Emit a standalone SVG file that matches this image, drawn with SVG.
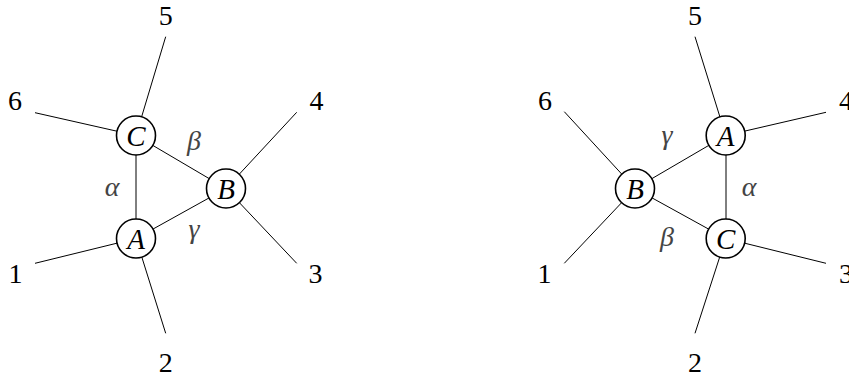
<svg xmlns="http://www.w3.org/2000/svg" width="849" height="375" viewBox="0 0 849 375">
<style>
.e{stroke:#000;stroke-width:1;fill:none}
.n{fill:#fff;stroke:#000;stroke-width:1.6}
text{font-family:'Liberation Serif','DejaVu Serif',serif;font-size:28px;text-anchor:middle}
.t{fill:#000}
.v{font-style:italic;fill:#000;font-size:29px}
.g{font-style:italic;fill:#444}
</style>
<rect width="849" height="375" fill="#fff"/>
<g id="connectors">
<line class="e" x1="136" y1="135.5" x2="165.7" y2="36.7"/>
<line class="e" x1="136" y1="135.5" x2="35" y2="112.7"/>
<line class="e" x1="226" y1="188.5" x2="296.7" y2="112.3"/>
<line class="e" x1="226" y1="188.5" x2="296.7" y2="263.3"/>
<line class="e" x1="136" y1="238.5" x2="35" y2="263.3"/>
<line class="e" x1="136" y1="238.5" x2="165.7" y2="333.3"/>
<line class="e" x1="136" y1="135.5" x2="136" y2="238.5"/>
<line class="e" x1="136" y1="135.5" x2="226" y2="188.5"/>
<line class="e" x1="136" y1="238.5" x2="226" y2="188.5"/>
<line class="e" x1="725.7" y1="135.5" x2="695" y2="36.7"/>
<line class="e" x1="725.7" y1="135.5" x2="826" y2="112.3"/>
<line class="e" x1="635" y1="188.5" x2="564.3" y2="111.7"/>
<line class="e" x1="635" y1="188.5" x2="564.3" y2="263.3"/>
<line class="e" x1="725.7" y1="238.5" x2="826" y2="263.3"/>
<line class="e" x1="725.7" y1="238.5" x2="695" y2="333.3"/>
<line class="e" x1="726" y1="135.5" x2="726" y2="238.5"/>
<line class="e" x1="635" y1="188.5" x2="725.7" y2="135.5"/>
<line class="e" x1="635" y1="188.5" x2="725.7" y2="238.5"/>
</g>
<g id="edge-labels">
<text class="g" x="112" y="196">α</text>
<text class="g" x="194" y="150">β</text>
<text class="g" x="194" y="238">γ</text>
<text class="g" x="749" y="196">α</text>
<text class="g" x="667" y="246">β</text>
<text class="g" x="667" y="144">γ</text>
</g>
<g id="leaf-labels">
<text class="t" x="165.7" y="25">5</text>
<text class="t" x="15" y="110">6</text>
<text class="t" x="316.5" y="110">4</text>
<text class="t" x="15.5" y="283">1</text>
<text class="t" x="315.5" y="283">3</text>
<text class="t" x="165.7" y="372">2</text>
<text class="t" x="695" y="25">5</text>
<text class="t" x="545" y="110">6</text>
<text class="t" x="846" y="110">4</text>
<text class="t" x="544.5" y="283">1</text>
<text class="t" x="846" y="283">3</text>
<text class="t" x="695" y="372">2</text>
</g>
<g id="L-C"><circle class="n" cx="136" cy="135.5" r="19.5"/><text class="v" x="136" y="145.5">C</text></g>
<g id="L-B"><circle class="n" cx="226" cy="188.5" r="19.5"/><text class="v" x="226" y="198.5">B</text></g>
<g id="L-A"><circle class="n" cx="136" cy="238.5" r="19.5"/><text class="v" x="136" y="248.5">A</text></g>
<g id="R-A"><circle class="n" cx="725.7" cy="135.5" r="19.5"/><text class="v" x="725.7" y="145.5">A</text></g>
<g id="R-B"><circle class="n" cx="635" cy="188.5" r="19.5"/><text class="v" x="635" y="198.5">B</text></g>
<g id="R-C"><circle class="n" cx="725.7" cy="238.5" r="19.5"/><text class="v" x="725.7" y="248.5">C</text></g>
</svg>
